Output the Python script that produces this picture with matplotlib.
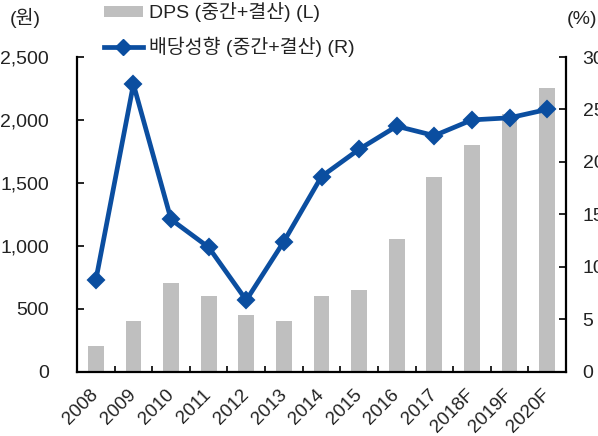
import matplotlib
matplotlib.use("Agg")
import matplotlib.pyplot as plt
import numpy as np
from matplotlib.lines import Line2D
from matplotlib.patches import Patch
from matplotlib.ticker import FixedLocator, NullFormatter

plt.rcParams['font.family'] = ['Liberation Sans', 'Noto Sans CJK KR', 'DejaVu Sans']

years = ['2008', '2009', '2010', '2011', '2012', '2013', '2014', '2015',
         '2016', '2017', '2018F', '2019F', '2020F']
dps = [200, 400, 700, 600, 450, 400, 600, 650, 1050, 1550, 1800, 2050, 2250]
payout = [8.7, 27.4, 14.5, 11.85, 6.8, 12.4, 18.6, 21.2, 23.4, 22.5, 24.0, 24.2, 25.0]

bar_color = '#BFBFBF'
line_color = '#0B4EA0'
text_color = '#222222'

fig = plt.figure(figsize=(5.98, 4.36), dpi=100)
ax = fig.add_axes([77/598, 1 - 371.5/436, (566 - 77)/598, (371.5 - 57)/436])
ax2 = ax.twinx()

x = np.arange(len(years))
ax.bar(x, dps, width=0.42, color=bar_color, zorder=2)
ax.set_xlim(-0.5, len(years) - 0.5)
ax.set_ylim(0, 2500)
ax.set_yticks([0, 500, 1000, 1500, 2000, 2500])
ax.set_yticklabels(['0', '500', '1,000', '1,500', '2,000', '2,500'])

ax2.plot(x, payout, color=line_color, lw=3.4, marker='D', markersize=8.5,
         markeredgewidth=1.5, markeredgecolor=line_color, markerfacecolor=line_color,
         solid_joinstyle='round', zorder=3)
ax2.set_ylim(0, 30)
ax2.set_yticks([0, 5, 10, 15, 20, 25, 30])

for a in (ax, ax2):
    a.spines['top'].set_visible(False)
    for s in a.spines.values():
        s.set_linewidth(1.6)
ax2.spines['left'].set_visible(False)
ax2.spines['bottom'].set_visible(False)
ax.spines['right'].set_visible(False)

ax.tick_params(axis='y', direction='in', length=5, width=1.2, pad=20,
               labelsize=14, labelcolor=text_color)
ax2.tick_params(axis='y', direction='in', length=5, width=1.2, pad=12,
                labelsize=14, labelcolor=text_color)

ax.set_xticks(x)
ax.set_xticklabels(years, rotation=45, ha='right', rotation_mode='anchor',
                   va='center', fontsize=13.5, color=text_color)
ax.tick_params(axis='x', which='major', length=0, pad=15)
ax.xaxis.set_minor_locator(FixedLocator(np.arange(len(years) - 1) + 0.5))
ax.xaxis.set_minor_formatter(NullFormatter())
ax.tick_params(axis='x', which='minor', direction='in', length=4, width=1.2)

fig.text(10/598, 1 - 18/436, '(원)', fontsize=14, va='center', ha='left', color=text_color)
fig.text(597/598, 1 - 20/436, '(%)', fontsize=14, va='center', ha='right', color=text_color)

handles = [Patch(facecolor=bar_color, edgecolor='none'),
           Line2D([0], [0], color=line_color, lw=3.4, marker='D', markersize=8.5,
                  markeredgecolor=line_color, markerfacecolor=line_color)]
labels = ['DPS (중간+결산) (L)', '배당성향 (중간+결산) (R)']
leg = fig.legend(handles, labels, loc='upper left', bbox_to_anchor=(104/598, 1 - 2/436),
                 frameon=False, fontsize=14, handlelength=2.0, handleheight=0.5,
                 handletextpad=0.3, labelspacing=0.75, borderpad=0, borderaxespad=0)
for t in leg.get_texts():
    t.set_color(text_color)

fig.savefig('out.png', dpi=100)
